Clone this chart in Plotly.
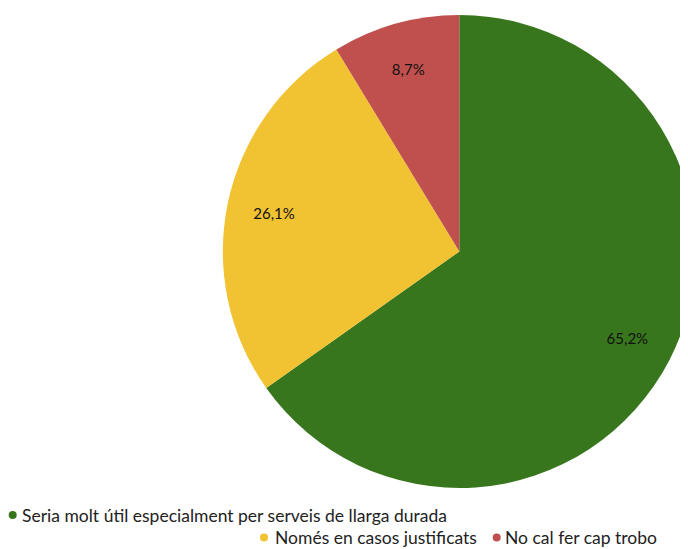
import plotly.graph_objects as go

labels = ["Seria molt útil especialment per serveis de llarga durada",
          "Només en casos justificats",
          "No cal fer cap trobo"]
values = [65.2, 26.1, 8.7]
text_labels = ["65,2%", "26,1%", "8,7%"]
colors = ["#38761d", "#f1c232", "#c0504d"]

W, H = 688, 549
pie_domain = dict(x=[0.312, 1.0], y=[0.1257, 0.9873])

fig = go.Figure()
fig.add_trace(go.Pie(
    labels=labels, values=values,
    textinfo="none",
    marker=dict(colors=colors, line=dict(width=0)),
    sort=False, direction="clockwise", rotation=0,
    showlegend=False, hoverinfo="label+percent",
    domain=pie_domain,
))
# transparent ring used only to place the percentage labels near the rim
fig.add_trace(go.Pie(
    labels=labels, values=values, text=text_labels, hole=0.6,
    textinfo="text", textposition="inside", insidetextorientation="horizontal",
    textfont=dict(family="Lato", size=15, color="#111111"),
    marker=dict(colors=["rgba(0,0,0,0)"] * 3, line=dict(width=0)),
    sort=False, direction="clockwise", rotation=0,
    showlegend=False, hoverinfo="skip",
    domain=pie_domain,
))

# legend drawn as markers + text (two rows, as in the original)
legend_pos = [(4.7, 507, 13), (256, 529.5, 266), (488.7, 529.5, 496)]  # marker x, y, text x (px)
shapes, annotations = [], []
for lab, col, (mx, my, tx) in zip(labels, colors, legend_pos):
    shapes.append(dict(type="circle", xref="paper", yref="paper",
                       xsizemode="pixel", ysizemode="pixel",
                       xanchor=mx / W, yanchor=1 - my / H,
                       x0=-4, x1=4, y0=-4, y1=4,
                       fillcolor=col, line=dict(width=0)))
    annotations.append(dict(text=lab, xref="paper", yref="paper",
                            x=tx / W, y=1 - my / H, xanchor="left", yanchor="middle",
                            showarrow=False, borderpad=0,
                            font=dict(family="Lato", size=17.5, color="#222222")))

fig.update_layout(
    width=W, height=H,
    margin=dict(l=0, r=0, t=0, b=0),
    paper_bgcolor="white", plot_bgcolor="white",
    font=dict(family="Lato", size=17.5, color="#222222"),
    showlegend=False,
    shapes=shapes, annotations=annotations,
)

fig.write_html("out.html")
